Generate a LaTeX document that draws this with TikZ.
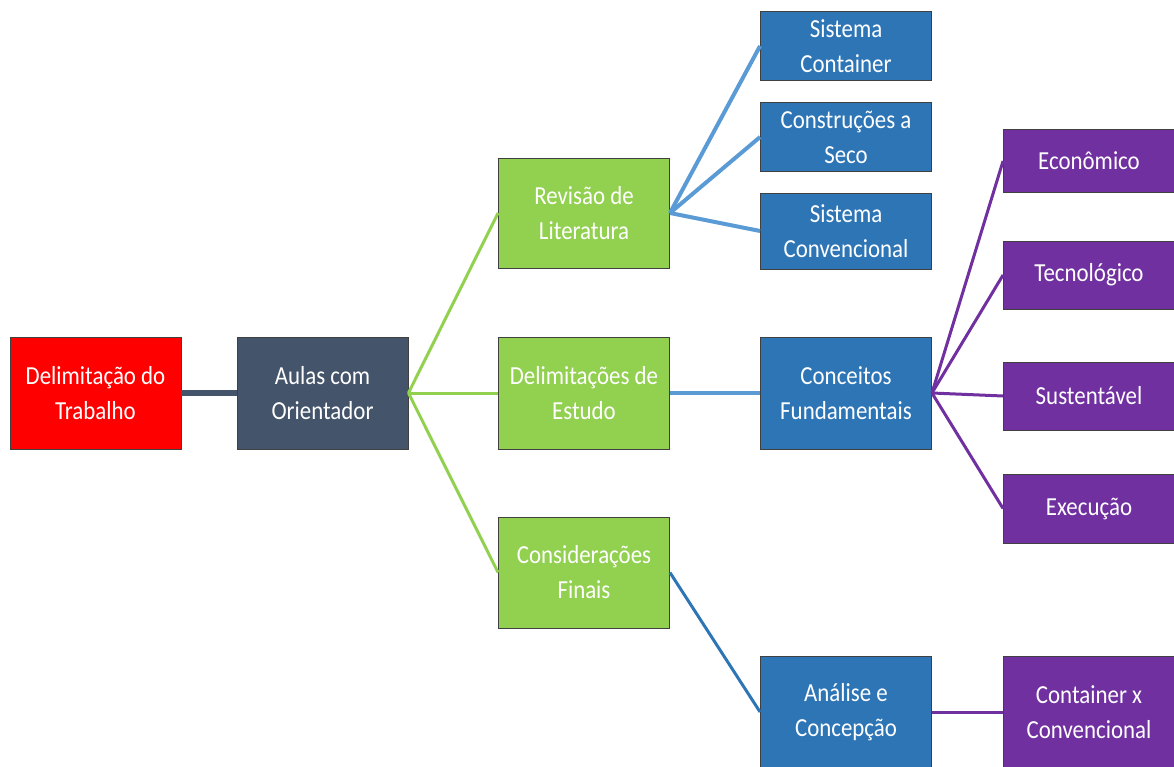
\documentclass[tikz,border=0pt]{standalone}
\usepackage{fontspec}
\setmainfont{Carlito}[FakeStretch=0.88]
\begin{document}
\begin{tikzpicture}[x=1pt, y=-1pt,
  every node/.style={align=center, text=white, font=\fontsize{26}{35}\selectfont},
  box/.style={rectangle, draw=black!75, line width=0.9pt, inner sep=0pt,
    minimum width=171pt},
  wire/.style={line width=3pt}]
  % Define colors
  \definecolor{redbox}{HTML}{FF0000}
  \definecolor{slatebox}{HTML}{44546A}
  \definecolor{greenbox}{HTML}{92D050}
  \definecolor{bluebox}{HTML}{2E75B6}
  \definecolor{lightblue}{HTML}{5B9BD5}
  \definecolor{purplebox}{HTML}{7030A0}

  % Canvas
  \useasboundingbox (0,0) rectangle (1174,767);
  \clip (0,0) rectangle (1174,767);

  % First column
  \node[box, fill=redbox, minimum height=112pt] (delim) at (95.5,393) {Delimitação do\\ Trabalho};
  \node[box, fill=slatebox, minimum height=112pt] (aulas) at (322.5,393) {Aulas com\\ Orientador};

  % Green column
  \node[box, fill=greenbox, minimum height=110pt] (revisao) at (584,213) {Revisão de\\ Literatura};
  \node[box, fill=greenbox, minimum height=112pt] (estudo) at (584,393) {Delimitações de\\ Estudo};
  \node[box, fill=greenbox, minimum height=111pt] (finais) at (584,572.5) {Considerações\\ Finais};

  % Blue column
  \node[box, fill=bluebox, minimum height=69pt] (container) at (846,46) {Sistema\\ Container};
  \node[box, fill=bluebox, minimum height=69pt] (seco) at (846,137) {Construções a\\ Seco};
  \node[box, fill=bluebox, minimum height=76pt] (convencional) at (846,231) {Sistema\\ Convencional};
  \node[box, fill=bluebox, minimum height=112pt] (conceitos) at (846,393) {Conceitos\\ Fundamentais};
  \node[box, fill=bluebox, minimum height=111pt] (analise) at (846,712) {Análise e\\ Concepção};

  % Purple column
  \node[box, fill=purplebox, minimum height=63pt] (economico) at (1089,161) {Econômico};
  \node[box, fill=purplebox, minimum height=68pt] (tecnologico) at (1089,275) {Tecnológico};
  \node[box, fill=purplebox, minimum height=68pt] (sustentavel) at (1089,396) {Sustentável};
  \node[box, fill=purplebox, minimum height=69pt] (execucao) at (1089,508.5) {Execução};
  \node[box, fill=purplebox, minimum height=111pt] (comparacao) at (1089,712) {Container x\\ Convencional};

  % Connect the components
  \draw[wire, slatebox, line width=6pt] (delim.east) -- (aulas.west);

  \draw[wire, greenbox] (aulas.east) -- (revisao.west);
  \draw[wire, greenbox] (aulas.east) -- (estudo.west);
  \draw[wire, greenbox] (aulas.east) -- (finais.west);

  \draw[wire, lightblue, line width=4pt] (revisao.east) -- (container.west);
  \draw[wire, lightblue, line width=4pt] (revisao.east) -- (seco.west);
  \draw[wire, lightblue, line width=4pt] (revisao.east) -- (convencional.west);
  \draw[wire, lightblue, line width=4pt] (estudo.east) -- (conceitos.west);
  \draw[wire, bluebox] (finais.east) -- (analise.west);

  \draw[wire, purplebox] (conceitos.east) -- (economico.west);
  \draw[wire, purplebox] (conceitos.east) -- (tecnologico.west);
  \draw[wire, purplebox] (conceitos.east) -- (sustentavel.west);
  \draw[wire, purplebox] (conceitos.east) -- (execucao.west);
  \draw[wire, purplebox] (analise.east) -- (comparacao.west);

\end{tikzpicture}
\end{document}
